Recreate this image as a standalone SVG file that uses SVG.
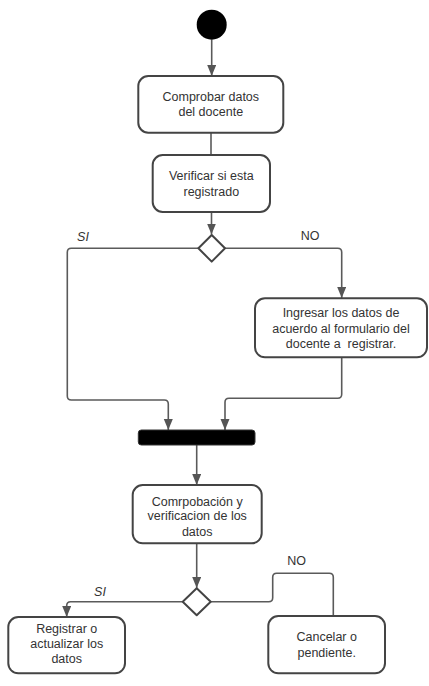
<svg xmlns="http://www.w3.org/2000/svg" width="429" height="686" viewBox="0 0 429 686">
<defs>
<marker id="arr" markerUnits="userSpaceOnUse" markerWidth="12" markerHeight="10" refX="11" refY="4.5" orient="auto">
<path d="M0,0 L11,4.5 L0,9 z" fill="#555"/>
</marker>
<style>
.box{fill:#fff;stroke:#444;stroke-width:2}
.ln{fill:none;stroke:#5a5a5a;stroke-width:1.6}
.t{font-family:"Liberation Sans",Arial,sans-serif;font-size:12.5px;fill:#333;text-anchor:middle;dominant-baseline:central}
.lbl{font-family:"Liberation Sans",Arial,sans-serif;font-size:12.5px;fill:#333;text-anchor:middle;dominant-baseline:central}
</style>
</defs>
<rect width="429" height="686" fill="#fff"/>
<g id="connectors">
<path class="ln" d="M211.7,39.5 V76" marker-end="url(#arr)"/>
<path class="ln" d="M211,132.7 V155"/>
<path class="ln" d="M211.5,212.5 V234.5" marker-end="url(#arr)"/>
<path class="ln" d="M198.3,248.3 H71.3 Q67.3,248.3 67.3,252.3 V396 Q67.3,400 71.3,400 H164.3 Q168.3,400 168.3,404 V430" marker-end="url(#arr)"/>
<path class="ln" d="M225,248.3 H337.7 Q341.7,248.3 341.7,252.3 V298" marker-end="url(#arr)"/>
<path class="ln" d="M341.7,357.5 V394.3 Q341.7,398.3 337.7,398.3 H229 Q225,398.3 225,402.3 V430" marker-end="url(#arr)"/>
<path class="ln" d="M196.7,445 V485" marker-end="url(#arr)"/>
<path class="ln" d="M196.7,543.5 V588" marker-end="url(#arr)"/>
<path class="ln" d="M182.7,601.7 H70.7 Q66.7,601.7 66.7,605.7 V617" marker-end="url(#arr)"/>
<path class="ln" d="M210.7,601.7 H268.7 Q272.7,601.7 272.7,597.7 V577.3 Q272.7,573.3 276.7,573.3 H329.3 Q333.3,573.3 333.3,577.3 V616"/>
<text class="lbl" x="83" y="237" font-style="italic">SI</text>
<text class="lbl" x="310" y="236">NO</text>
<text class="lbl" x="100" y="592" font-style="italic">SI</text>
<text class="lbl" x="296.7" y="561">NO</text>
</g>
<g id="start">
<circle cx="211.7" cy="24.7" r="15" fill="#000"/>
</g>
<g id="n1">
<rect class="box" x="138.3" y="76" width="145" height="56.7" rx="10"/>
<text class="t" x="210.8" y="97">Comprobar datos</text>
<text class="t" x="210.8" y="112">del docente</text>
</g>
<g id="n2">
<rect class="box" x="152.7" y="155" width="117.3" height="57" rx="10"/>
<text class="t" x="211.3" y="176">Verificar si esta</text>
<text class="t" x="211.3" y="192">registrado</text>
</g>
<g id="d1">
<path d="M211.7,235 L225,248.3 L211.7,261.6 L198.4,248.3 Z" fill="#fff" stroke="#444" stroke-width="2" stroke-linejoin="round"/>
</g>
<g id="n3">
<rect class="box" x="255" y="298.3" width="172" height="59" rx="10"/>
<text class="t" x="341" y="313.3">Ingresar los datos de</text>
<text class="t" x="341" y="328.8">acuerdo al formulario del</text>
<text class="t" x="341" y="343.5" xml:space="preserve">docente a  registrar.</text>
</g>
<g id="bar">
<rect x="138.3" y="430" width="116.7" height="15" rx="3" fill="#000" stroke="#333" stroke-width="1"/>
</g>
<g id="n4">
<rect class="box" x="132.7" y="485" width="129" height="58.3" rx="10"/>
<text class="t" x="197.2" y="501.7">Comrpobación y</text>
<text class="t" x="197.2" y="516.3">verificacion de los</text>
<text class="t" x="197.2" y="531.7">datos</text>
</g>
<g id="d2">
<path d="M196.7,588.2 L210.7,601.7 L196.7,615.2 L182.7,601.7 Z" fill="#fff" stroke="#444" stroke-width="2" stroke-linejoin="round"/>
</g>
<g id="n5">
<rect class="box" x="8.3" y="617" width="116.7" height="56.3" rx="10"/>
<text class="t" x="66.7" y="628.5">Registrar o</text>
<text class="t" x="66.7" y="643.5">actualizar los</text>
<text class="t" x="66.7" y="658.5">datos</text>
</g>
<g id="n6">
<rect class="box" x="268.3" y="616" width="116.7" height="57.3" rx="10"/>
<text class="t" x="326.7" y="636.7">Cancelar o</text>
<text class="t" x="326.7" y="653.3">pendiente.</text>
</g>
</svg>
